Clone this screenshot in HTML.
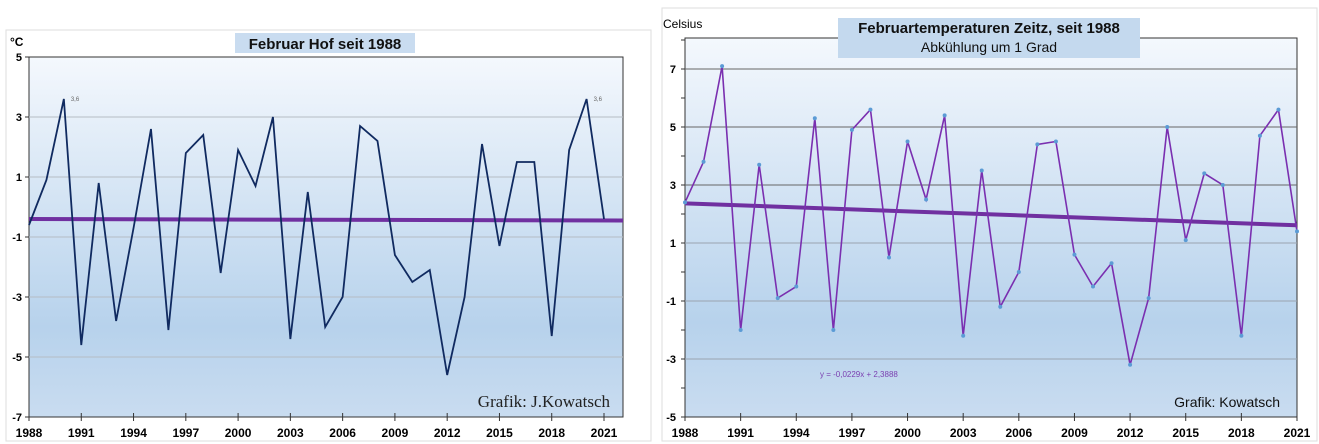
<!DOCTYPE html>
<html><head><meta charset="utf-8"><style>
body{margin:0;background:#fff;width:1319px;height:444px;overflow:hidden;font-family:"Liberation Sans",sans-serif}
svg{position:absolute;left:0;top:0}
</style></head><body>
<svg width="1319" height="444" xmlns="http://www.w3.org/2000/svg">
<defs>
<linearGradient id="g1" x1="0" y1="0" x2="0" y2="1"><stop offset="0" stop-color="#f4f8fd"/><stop offset="0.75" stop-color="#b7d2ec"/><stop offset="1" stop-color="#c9dcf0"/></linearGradient>
<linearGradient id="g2" x1="0" y1="0" x2="0" y2="1"><stop offset="0" stop-color="#f4f8fd"/><stop offset="0.75" stop-color="#b7d2ec"/><stop offset="1" stop-color="#c9dcf0"/></linearGradient>
</defs>
<rect x="6" y="30" width="645" height="411" fill="#fff" stroke="#ddd"/>
<rect x="662" y="8" width="655" height="433" fill="#fff" stroke="#ddd"/>
<rect x="29" y="57" width="594" height="360" fill="url(#g1)" stroke="#333"/>
<rect x="685" y="38" width="612" height="379" fill="url(#g2)" stroke="#333"/>
<g id="L"></g><g id="R"></g>
<rect x="235" y="33" width="180" height="20" fill="#c9dcf0"/>
<text x="325" y="49" font-size="15" font-weight="bold" text-anchor="middle" fill="#111">Februar Hof seit 1988</text>
<text x="10" y="46" font-size="12" font-weight="bold">°C</text>
<text x="610" y="407" font-size="17" font-family="Liberation Serif,serif" text-anchor="end" fill="#222">Grafik: J.Kowatsch</text>
<rect x="838" y="18" width="302" height="40" fill="#c4d9ee"/>
<text x="989" y="33" font-size="15" font-weight="bold" text-anchor="middle" fill="#111">Februartemperaturen Zeitz, seit 1988</text>
<text x="989" y="52" font-size="14" text-anchor="middle" fill="#111">Abkühlung um 1 Grad</text>
<text x="663" y="28" font-size="12">Celsius</text>
<text x="1280" y="407" font-size="14" text-anchor="end" fill="#111">Grafik: Kowatsch</text>
<text x="820" y="377" font-size="8" fill="#7a3fb0">y = -0,0229x + 2,3888</text>
</svg>
<script>
const years=[];for(let y=1988;y<=2021;y++)years.push(y);
const hofValues=[-0.6,0.9,3.6,-4.6,0.8,-3.8,-0.7,2.6,-4.1,1.8,2.4,-2.2,1.9,0.7,3.0,-4.4,0.5,-4.0,-3.0,2.7,2.2,-1.6,-2.5,-2.1,-5.6,-3.0,2.1,-1.3,1.5,1.5,-4.3,1.9,3.6,-0.4];
const hofTrend=[-0.4,-0.45];
const hofTicks=[5,3,1,-1,-3,-5,-7];
const zeitzValues=[2.4,3.8,7.1,-2.0,3.7,-0.9,-0.5,5.3,-2.0,4.9,5.6,0.5,4.5,2.5,5.4,-2.2,3.5,-1.2,0.0,4.4,4.5,0.6,-0.5,0.3,-3.2,-0.9,5.0,1.1,3.4,3.0,-2.2,4.7,5.6,1.4];
const zeitzSlope=-0.0229, zeitzIntercept=2.3888;
const zeitzTicks=[7,5,3,1,-1,-3,-5];
const xLabels=[1988,1991,1994,1997,2000,2003,2006,2009,2012,2015,2018,2021];
const NS="http://www.w3.org/2000/svg";
function mk(p,t,a){const e=document.createElementNS(NS,t);for(const k in a)e.setAttribute(k,a[k]);p.appendChild(e);return e;}
// left
const L=document.getElementById('L');
const lx=y=>29+(y-1988)*(604-29)/33, ly=v=>57+(5-v)*30;
hofTicks.forEach(t=>{if(t!==5&&t!==-7){const g=mk(L,'line',{x1:29,x2:623,y1:ly(t),y2:ly(t),stroke:'#b5bcc4','stroke-width':1});}
 const tx=mk(L,'text',{x:22,y:ly(t)+4,'font-size':11,'font-weight':'bold','text-anchor':'end'});tx.textContent=t;
 mk(L,'line',{x1:25,x2:29,y1:ly(t),y2:ly(t),stroke:'#333'});});
xLabels.forEach(y=>{mk(L,'line',{x1:lx(y),x2:lx(y),y1:413,y2:421,stroke:'#333'});
 const tx=mk(L,'text',{x:lx(y),y:437,'font-size':12,'font-weight':'bold','text-anchor':'middle'});tx.textContent=y;});
let tr=mk(L,'line',{x1:29,x2:623,y1:ly(hofTrend[0]),y2:ly(hofTrend[1]),stroke:'#7030a0','stroke-width':4});

let pl=mk(L,'polyline',{points:hofValues.map((v,i)=>lx(years[i])+','+ly(v)).join(' '),fill:'none',stroke:'#102a60','stroke-width':1.8});

[2,32].forEach(i=>{const t=mk(L,'text',{x:lx(years[i])+7,y:ly(hofValues[i])+2,'font-size':6,fill:'#666'});t.textContent=String(hofValues[i]).replace('.',',');});
// right
const R=document.getElementById('R');
const rx=y=>685+(y-1988)*(1297-685)/33, ry=v=>127+(5-v)*29;
for(let t=-5;t<=8;t++){mk(R,'line',{x1:681,x2:685,y1:ry(t),y2:ry(t),stroke:'#333'});}
zeitzTicks.forEach(t=>{if(t!==-5){const g=mk(R,'line',{x1:685,x2:1297,y1:ry(t),y2:ry(t),stroke:t>=3?'#666':'#9aa4b0','stroke-width':1});}
 const tx=mk(R,'text',{x:676,y:ry(t)+4,'font-size':11,'font-weight':'bold','text-anchor':'end'});tx.textContent=t;});
xLabels.forEach(y=>{mk(R,'line',{x1:rx(y),x2:rx(y),y1:413,y2:421,stroke:'#333'});
 const tx=mk(R,'text',{x:rx(y),y:437,'font-size':12,'font-weight':'bold','text-anchor':'middle'});tx.textContent=y;});
tr=mk(R,'line',{x1:rx(1988),x2:rx(2021),y1:ry(zeitzSlope*1+zeitzIntercept),y2:ry(zeitzSlope*34+zeitzIntercept),stroke:'#7030a0','stroke-width':4});

pl=mk(R,'polyline',{points:zeitzValues.map((v,i)=>rx(years[i])+','+ry(v)).join(' '),fill:'none',stroke:'#7a2fb0','stroke-width':1.6});

zeitzValues.forEach((v,i)=>{const c=mk(R,'circle',{cx:rx(years[i]),cy:ry(v),r:2,fill:'#5b9bd5'});

});
</script>
</body></html>
